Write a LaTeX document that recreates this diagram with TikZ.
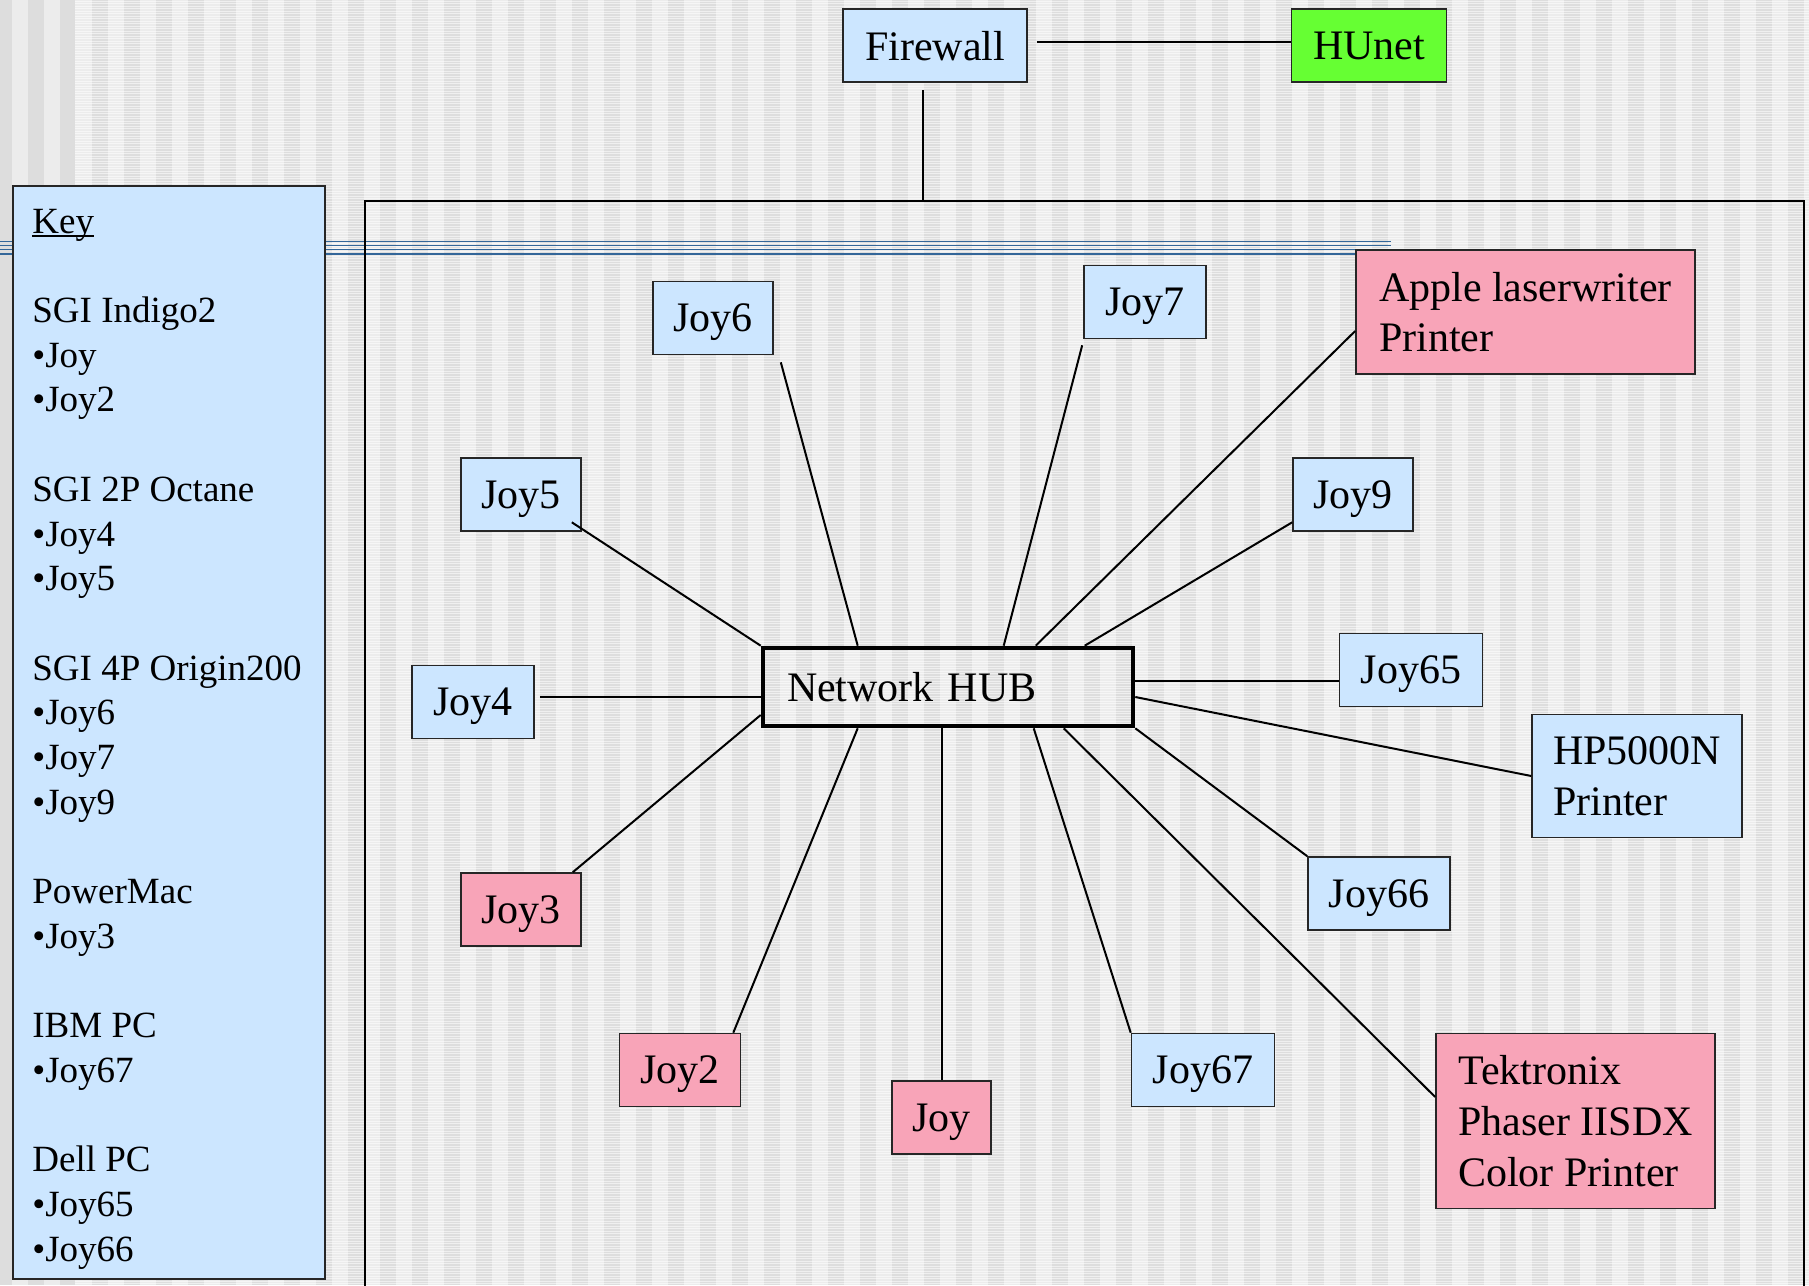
\documentclass[tikz,border=0pt]{standalone}
\usepackage{fontspec}
\setmainfont{Liberation Serif}
\usetikzlibrary{calc}
\definecolor{lblue}{HTML}{CCE6FF}
\definecolor{lpink}{HTML}{F8A4B8}
\definecolor{lgreen}{HTML}{66FF33}
\definecolor{rulecol}{HTML}{336699}
\definecolor{bgA}{HTML}{ECECEC}
\definecolor{bgB}{HTML}{DDDDDD}
\begin{document}
\begin{tikzpicture}[x=0.5pt,y=-0.5pt,
  box/.style={draw=black!85, line width=0.8pt, inner sep=0pt, minimum height=36.5pt,
    text depth=0pt, font=\fontsize{21}{25.4}\selectfont},
  bluebox/.style={box, fill=lblue},
  pinkbox/.style={box, fill=lpink},
  greenbox/.style={box, fill=lgreen},
  hubbox/.style={draw=black, line width=2.3pt, inner xsep=12pt, inner ysep=0pt,
    minimum height=39pt, text width=161pt, align=left, font=\fontsize{21}{25.4}\selectfont},
  conn/.style={draw=black, line width=1pt},
  keybox/.style={draw=black!85, line width=1pt, fill=lblue, inner sep=0pt, anchor=north west},
  keytext/.style={inner sep=0pt, anchor=north west, align=left, font=\fontsize{18.5}{22.35}\selectfont},
  frame/.style={draw=black, line width=1pt}]
\useasboundingbox (0,0) rectangle (1809,1285);
\clip (0,0) rectangle (1809,1285);
% background
\fill[bgA] (0,0) rectangle (1809,1285);
\foreach \x in {92,124,...,1800} \fill[bgB] (\x,0) rectangle ++(16,1285);
\foreach \y in {1,3.5,...,1285} \draw[white, opacity=0.55, line width=0.5pt] (75,\y) -- (1809,\y);
\fill[bgA] (0,0) rectangle (75,1285);
\foreach \x/\w in {0/12,28/16,60/15} \fill[bgB] (\x,0) rectangle ++(\w,1285);
% blue rules
\foreach \y in {241.7,245.4,249.4,254} \draw[rulecol, line width=0.6pt] (0,\y) -- (1391,\y);
% frame
\draw[frame] (365,201) rectangle (1803.5,1300);
% nodes
\node[bluebox, minimum width=92pt] (firewall) at (935,45.5) {Firewall};
\node[greenbox, minimum width=77.5pt] (hunet) at (1369,45.5) {HUnet};
\node[hubbox] (hub) at (948,687) {\raisebox{-2pt}{Network HUB}};
\node[bluebox, minimum width=60pt] (joy6) at (713,318) {Joy6};
\node[bluebox, minimum width=61pt] (joy7) at (1145,302) {Joy7};
\node[pinkbox, minimum width=169.5pt, minimum height=62pt, align=left] (apple) at (1525.5,312) {Apple laserwriter\\Printer};
\node[bluebox, minimum width=60pt] (joy5) at (521,494.5) {Joy5};
\node[bluebox, minimum width=60pt] (joy9) at (1353,494.5) {Joy9};
\node[bluebox, minimum width=61pt] (joy4) at (473,702) {Joy4};
\node[bluebox, minimum width=71.5pt] (joy65) at (1411,670) {Joy65};
\node[bluebox, minimum width=105pt, minimum height=61.5pt, align=left] (hp) at (1637,776) {HP5000N\\Printer};
\node[bluebox, minimum width=71pt] (joy66) at (1379,893.5) {Joy66};
\node[pinkbox, minimum width=60pt] (joy3) at (521,909.5) {Joy3};
\node[pinkbox, minimum width=60.5pt] (joy2) at (680,1070) {Joy2};
\node[pinkbox, minimum width=49.5pt] (joy) at (941.5,1117.5) {Joy};
\node[bluebox, minimum width=71.5pt] (joy67) at (1203,1070) {Joy67};
\node[pinkbox, minimum width=139.5pt, minimum height=87.5pt, align=left] (tek) at (1575.5,1121) {Tektronix\\Phaser IISDX\\Color Printer};
% connectors
\draw[conn] ($(firewall.east)+(9,-4)$) -- ($(hunet.west)+(0,-4)$);
\draw[conn] ($(firewall.south)+(-12,7)$) coordinate (fw1) -- (fw1 |- 0,201);
\draw[conn] ($(joy6.south east)+(7,7)$) -- ($(hub.north west)+(97,0)$);
\draw[conn] ($(joy7.south west)+(-1,6)$) -- ($(hub.north west)+(243,0)$);
\draw[conn] ($(apple.west)+(0,19)$) -- ($(hub.north west)+(275,0)$);
\draw[conn] ($(joy9.south west)+(0,-9.5)$) -- ($(hub.north west)+(324,0)$);
\draw[conn] ($(joy5.south east)+(-10,-9.5)$) -- (hub.north west);
\draw[conn] ($(joy4.east)+(5,-5)$) -- ($(hub.west)+(0,10)$);
\draw[conn] ($(joy65.west)+(0,11)$) -- ($(hub.east)+(0,-6)$);
\draw[conn] (hp.west) -- ($(hub.east)+(0,10)$);
\draw[conn] (joy66.north west) -- (hub.south east);
\draw[conn] ($(tek.west)+(0,-24)$) -- ($(hub.south west)+(303,0)$);
\draw[conn] (joy67.north west) -- ($(hub.south west)+(273,0)$);
\draw[conn] (joy.north) -- (joy.north |- hub.south);
\draw[conn] ($(joy2.north east)+(-8,0)$) -- ($(hub.south west)+(97,0)$);
\draw[conn] ($(joy3.north east)+(-9,0)$) -- ($(hub.west)+(0,28)$);
% key
\node[keybox, minimum width=156.3pt, minimum height=546.5pt] (key) at (11.7,185) {};
\node[keytext] (keytxt) at (32,208.5) {\rlap{\rule[-1.8pt]{31pt}{0.9pt}}Key\\[22.35pt]
SGI Indigo2\\•Joy\\•Joy2\\[22.35pt]
SGI 2P Octane\\•Joy4\\•Joy5\\[22.35pt]
SGI 4P Origin200\\•Joy6\\•Joy7\\•Joy9\\[22.35pt]
PowerMac\\•Joy3\\[22.35pt]
IBM PC\\•Joy67\\[22.35pt]
Dell PC\\•Joy65\\•Joy66};
\end{tikzpicture}
\end{document}
